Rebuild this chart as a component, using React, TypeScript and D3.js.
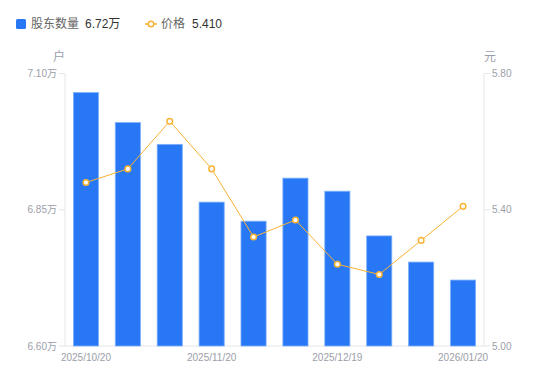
import React from "react";
import * as d3 from "d3";

const categories = [
  "2025/10/20", "2025/10/31", "2025/11/10", "2025/11/20", "2025/11/28",
  "2025/12/10", "2025/12/19", "2025/12/31", "2026/01/09", "2026/01/20",
];
const holders = [7.065, 7.01, 6.97, 6.864, 6.829, 6.908, 6.884, 6.802, 6.754, 6.721];
const prices = [5.48, 5.52, 5.66, 5.52, 5.32, 5.37, 5.24, 5.21, 5.31, 5.41];
const shownLabels = ["2025/10/20", "2025/11/20", "2025/12/19", "2026/01/20"];
const leftTicks = [6.6, 6.85, 7.1];
const rightTicks = [5.0, 5.4, 5.8];

const W = 550, H = 381;
const L = 65, R = 484, T = 73.5, B = 346;
const FONT = "'Liberation Sans', 'Noto Sans CJK SC', sans-serif";
const BLUE = "#2878f5";
const ORANGE = "#f9b234";
const GRAY = "#9b9ea8";
const AXIS = "#e4e6ea";

export default function App() {
  const x = d3.scaleBand<string>().domain(categories).range([L, R]).paddingInner(0.4).paddingOuter(0.2);
  const yL = d3.scaleLinear().domain([6.6, 7.1]).range([B, T]);
  const yR = d3.scaleLinear().domain([5.0, 5.8]).range([B, T]);
  const cx = (c: string) => (x(c) ?? 0) + x.bandwidth() / 2;
  const line = d3.line<number>().x((_, i) => cx(categories[i])).y((d) => yR(d));

  return (
    <svg width={W} height={H} style={{ position: "absolute", left: 0, top: 0 }} fontFamily={FONT}>
      {/* legend */}
      <rect x={16} y={19} width={10} height={10} rx={1.5} fill={BLUE} />
      <text x={31} y={28} fontSize={12} fill="#666">股东数量</text>
      <text x={85} y={28} fontSize={12} fill="#333">6.72万</text>
      <line x1={145} x2={157} y1={24} y2={24} stroke={ORANGE} strokeWidth={1.5} />
      <circle cx={151} cy={24} r={2.8} fill="#fff" stroke={ORANGE} strokeWidth={1.5} />
      <text x={161} y={28} fontSize={12} fill="#666">价格</text>
      <text x={192} y={28} fontSize={12} fill="#333">5.410</text>

      {/* units */}
      <text x={59} y={61} fontSize={12} fill={GRAY} textAnchor="middle">户</text>
      <text x={490} y={61} fontSize={12} fill={GRAY} textAnchor="middle">元</text>

      {/* axes */}
      <line x1={L} x2={L} y1={T} y2={B} stroke={AXIS} />
      <line x1={R} x2={R} y1={T} y2={B} stroke={AXIS} />
      <line x1={L} x2={R} y1={B} y2={B} stroke={AXIS} />
      {leftTicks.map((t) => (
        <g key={"l" + t}>
          <line x1={L - 6} x2={L} y1={yL(t)} y2={yL(t)} stroke={AXIS} />
          <text x={L - 8} y={yL(t) + 3.5} fontSize={10} fill={GRAY} textAnchor="end">{t.toFixed(2)}万</text>
        </g>
      ))}
      {rightTicks.map((t) => (
        <g key={"r" + t}>
          <line x1={R} x2={R + 6} y1={yR(t)} y2={yR(t)} stroke={AXIS} />
          <text x={R + 8} y={yR(t) + 3.5} fontSize={10} fill={GRAY} textAnchor="start">{t.toFixed(2)}</text>
        </g>
      ))}
      {shownLabels.map((c) => (
        <text key={c} x={cx(c)} y={361} fontSize={10} fill={GRAY} textAnchor="middle">{c}</text>
      ))}

      {/* bars */}
      {holders.map((v, i) => (
        <rect key={i} x={x(categories[i])} y={yL(v)} width={x.bandwidth()} height={B - yL(v)}
          fill={BLUE} stroke="#7fb0fa" strokeWidth={0.8} />
      ))}

      {/* line */}
      <path d={line(prices) ?? ""} fill="none" stroke={ORANGE} strokeWidth={1} />
      {prices.map((p, i) => (
        <circle key={i} cx={cx(categories[i])} cy={yR(p)} r={2.8} fill="#fff" stroke={ORANGE} strokeWidth={1.5} />
      ))}
    </svg>
  );
}
